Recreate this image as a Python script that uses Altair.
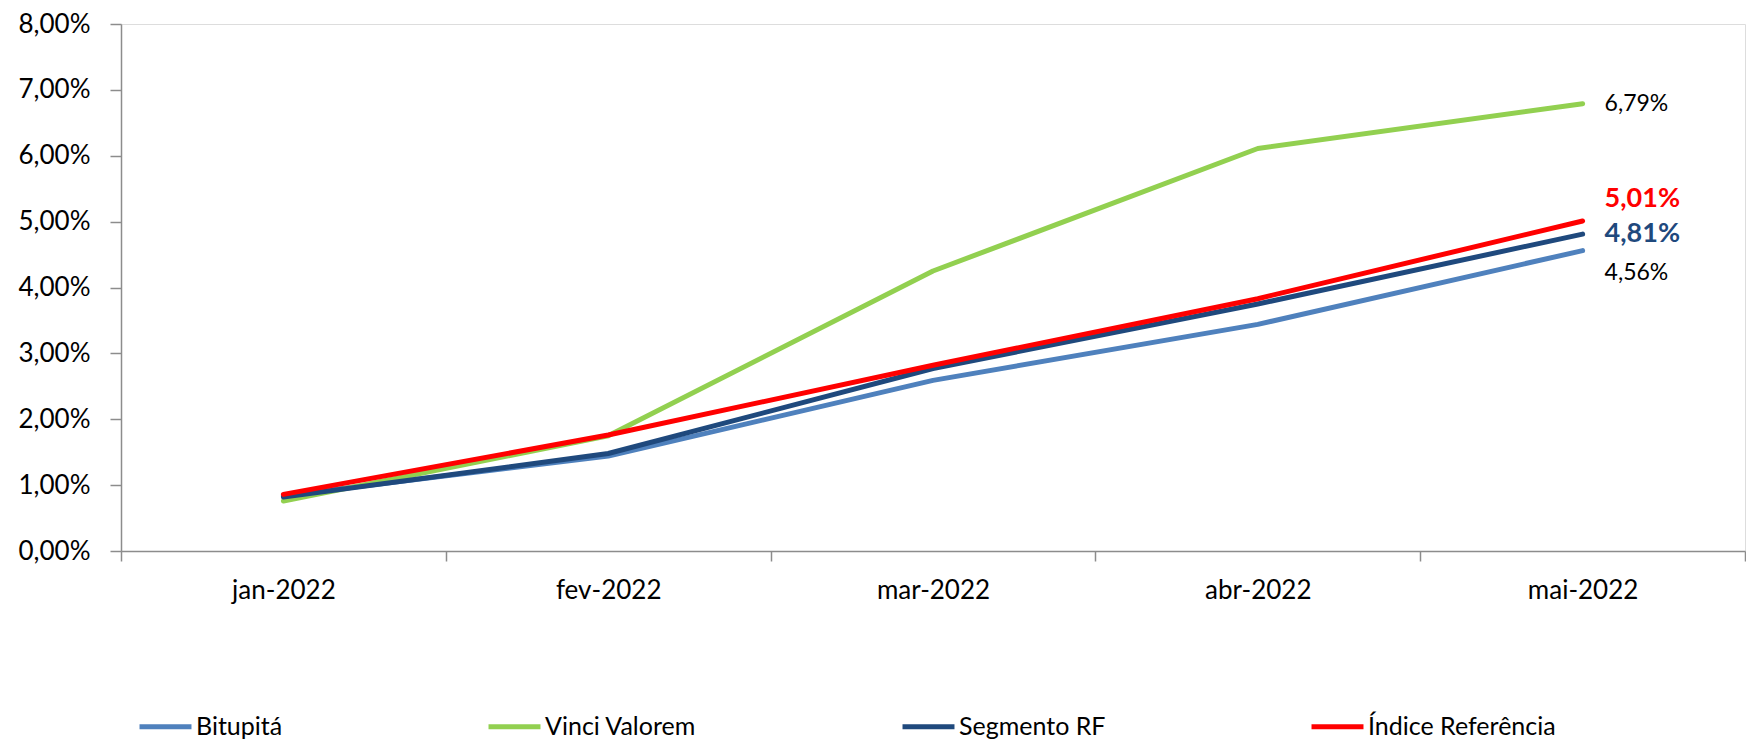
import altair as alt
import pandas as pd

months = ["jan-2022", "fev-2022", "mar-2022", "abr-2022", "mai-2022"]
series_names = ["Bitupitá", "Vinci Valorem", "Segmento RF", "Índice Referência"]
series_colors = ["#4F81BD", "#92D050", "#1F497D", "#FF0000"]

bitupita = [0.84, 1.44, 2.59, 3.44, 4.56]
vinci = [0.76, 1.75, 4.25, 6.11, 6.79]
segmento = [0.82, 1.48, 2.77, 3.75, 4.81]
indice = [0.86, 1.76, 2.82, 3.83, 5.01]

y_ticks = [0, 1, 2, 3, 4, 5, 6, 7, 8]

rows = []
for name, vals in zip(series_names, [bitupita, vinci, segmento, indice]):
    for m, v in zip(months, vals):
        rows.append({"mes": m, "serie": name, "valor": v})
df = pd.DataFrame(rows)

FONT = "Lato"
AXIS_COLOR = "#8c8c8c"

x_enc = alt.X(
    "mes:N",
    sort=months,
    scale=alt.Scale(type="band", paddingInner=0, paddingOuter=0),
    axis=alt.Axis(
        title=None, labelAngle=0, tickBand="extent", tickSize=10,
        labelPadding=16, labelFont=FONT, labelFontSize=26, labelColor="#000000",
        domainColor=AXIS_COLOR, tickColor=AXIS_COLOR, domainWidth=1.5, tickWidth=1.5,
        grid=False,
    ),
)
y_enc = alt.Y(
    "valor:Q",
    scale=alt.Scale(domain=[0, 8], nice=False, zero=True),
    axis=alt.Axis(
        title=None, values=y_ticks, tickSize=11, labelPadding=20,
        labelFont=FONT, labelFontSize=26, labelColor="#000000",
        labelExpr="replace(format(datum.value, '.2f'), '.', ',') + '%'",
        domainColor=AXIS_COLOR, tickColor=AXIS_COLOR, domainWidth=1.5, tickWidth=1.5,
        grid=False,
    ),
)

lines = alt.Chart(df).mark_line(strokeWidth=5, strokeCap="round", strokeJoin="round").encode(
    x=x_enc,
    y=y_enc,
    color=alt.Color(
        "serie:N",
        sort=series_names,
        scale=alt.Scale(domain=series_names, range=series_colors),
        legend=alt.Legend(
            title=None, orient="none", legendX=16, legendY=674, direction="horizontal",
            columns=4, symbolType="stroke", symbolStrokeWidth=5, symbolSize=2700,
            labelFont=FONT, labelFontSize=25, labelColor="#000000",
            labelOffset=2, columnPadding=195, labelLimit=400,
        ),
    ),
    order=alt.Order("ordem:Q"),
).transform_calculate(
    ordem="indexof(['Bitupitá','Vinci Valorem','Segmento RF','Índice Referência'], datum.serie)"
)

label_specs = [
    ("Vinci Valorem", "#000000", "normal", 23, 0),
    ("Índice Referência", "#FF0000", "bold", 27, -22),
    ("Segmento RF", "#1F497D", "bold", 27, 0),
    ("Bitupitá", "#000000", "normal", 23, 22),
]

label_layers = []
for name, color, weight, size, dy in label_specs:
    t = alt.Chart(df).transform_filter(
        (alt.datum.serie == name) & (alt.datum.mes == months[-1])
    ).transform_calculate(
        rotulo="replace(format(datum.valor, '.2f'), '.', ',') + '%'"
    ).mark_text(
        align="left", baseline="middle", dx=22, dy=dy, font=FONT,
        fontSize=size, fontWeight=weight, color=color,
    ).encode(
        x=alt.X("mes:N", sort=months, scale=alt.Scale(type="band", paddingInner=0, paddingOuter=0)),
        y=alt.Y("valor:Q", scale=alt.Scale(domain=[0, 8], nice=False)),
        text="rotulo:N",
    )
    label_layers.append(t)

chart = alt.layer(lines, *label_layers).properties(
    width=1624,
    height=527,
    autosize=alt.AutoSizeParams(type="none"),
    padding={"left": 113, "top": 16, "right": 1, "bottom": 188},
).configure_view(stroke=None).configure(background="#ffffff")

chart.save("out.html", embed_options={"renderer": "svg", "actions": False})
